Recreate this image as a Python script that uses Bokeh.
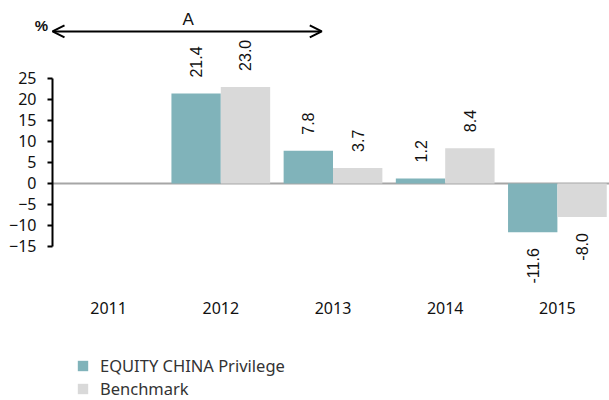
import math
from bokeh.plotting import figure
from bokeh.models import (ColumnDataSource, Range1d, FixedTicker, LinearAxis,
                          Arrow, OpenHead, Label, Legend, LegendItem)
from bokeh.core.properties import value
from bokeh.embed import file_html
from bokeh.resources import INLINE

years = ["2011", "2012", "2013", "2014", "2015"]
fund = [None, 21.4, 7.8, 1.2, -11.6]
bench = [None, 23.0, 3.7, 8.4, -8.0]
y_ticks = [-15, -10, -5, 0, 5, 10, 15, 20, 25]
series_names = ["EQUITY CHINA Privilege", "Benchmark"]
colors = ["#80B3BA", "#D9D9D9"]

TICK_FONT = "Noto Sans"
VAL_FONT = "Liberation Sans"
BAR_W = 0.44

centers = [i + 0.5 for i in range(len(years))]

p = figure(width=609, height=400, output_backend="svg", toolbar_location=None,
           x_range=Range1d(-52 / 112.2, 557 / 112.2),
           y_range=Range1d(-51.67, 43.57), x_axis_location=None, y_axis_location=None,
           min_border_left=0, min_border_right=0, min_border_top=0,
           min_border_bottom=0)
p.outline_line_color = None
p.xgrid.visible = False
p.ygrid.visible = False
p.background_fill_color = "white"
p.border_fill_color = "white"

def vals(arr):
    return [float("nan") if v is None else v for v in arr]

src = ColumnDataSource(dict(
    xf=[c - BAR_W / 2 for c in centers], xb=[c + BAR_W / 2 for c in centers],
    fund=vals(fund), bench=vals(bench)))

# zero line across the category area
p.line(x=[0, len(years)], y=[0, 0], line_color="#A6A6A6", line_width=2)

r1 = p.vbar(x="xf", top="fund", bottom=0, width=BAR_W, source=src,
            fill_color=colors[0], line_color=None)
r2 = p.vbar(x="xb", top="bench", bottom=0, width=BAR_W, source=src,
            fill_color=colors[1], line_color=None)

# value labels, one text renderer per series
for off, arr in ((-BAR_W / 2, fund), (BAR_W / 2, bench)):
    xs, ys, ts, als, ofs = [], [], [], [], []
    for c, v in zip(centers, arr):
        if v is None:
            continue
        xs.append(c + off)
        ys.append(v)
        ts.append(f"{v:.1f}")
        als.append("left" if v >= 0 else "right")
        ofs.append(-16 if v >= 0 else 16)
    s = ColumnDataSource(dict(x=xs, y=ys, t=ts, a=als, o=ofs))
    p.text(x="x", y="y", text="t", source=s,
           angle=math.pi / 2, text_align="a", text_baseline="middle",
           y_offset="o", text_font=value(VAL_FONT), text_font_size="16px",
           text_color="#111111")

# y axis at the left edge of the category area
ya = LinearAxis(fixed_location=0)
ya.bounds = (-15, 25)
ya.ticker = FixedTicker(ticks=y_ticks)
ya.axis_line_color = "black"
ya.axis_line_width = 2
ya.major_tick_line_color = "black"
ya.major_tick_line_width = 2
ya.major_tick_out = 5
ya.major_tick_in = 0
ya.minor_tick_line_color = None
ya.major_label_text_font = TICK_FONT
ya.major_label_text_font_size = "16px"
ya.major_label_text_color = "#111111"
ya.major_label_standoff = 11
p.add_layout(ya, "left")

# x axis (category labels), placed at a fixed level inside the frame
xa = LinearAxis(fixed_location=-26.9)
xa.ticker = FixedTicker(ticks=centers)
xa.major_label_overrides = {c: y for c, y in zip(centers, years)}
xa.axis_line_color = None
xa.major_tick_line_color = None
xa.minor_tick_line_color = None
xa.major_label_text_font = TICK_FONT
xa.major_label_text_font_size = "16px"
xa.major_label_text_color = "#111111"
xa.major_label_standoff = 0
p.add_layout(xa, "below")

# arrow period A
p.add_layout(Arrow(start=OpenHead(size=12, line_width=2, line_color="black"),
                   end=OpenHead(size=12, line_width=2, line_color="black"),
                   x_start=0.0, x_end=2.4, y_start=36.2, y_end=36.2,
                   line_width=2, line_color="black"))
p.add_layout(Label(x=1.21, y=36.9, text="A", text_align="center", text_baseline="bottom",
                   text_font="Liberation Sans", text_font_size="17px", text_color="#111111"))
p.add_layout(Label(x=-0.098, y=37.5, text="%", text_align="center", text_baseline="middle",
                   text_font="Liberation Sans", text_font_size="15px", text_font_style="bold",
                   text_color="#111111"))

legend = Legend(items=[LegendItem(label=series_names[0], renderers=[r1]),
                       LegendItem(label=series_names[1], renderers=[r2])],
                location=(76, 0), orientation="vertical",
                label_text_font=TICK_FONT, label_text_font_size="16.5px",
                label_text_color="#333333", glyph_width=13, glyph_height=13,
                label_height=20, label_standoff=11, spacing=0, padding=0, margin=0,
                border_line_color=None, background_fill_color=None,
                background_fill_alpha=0)
p.add_layout(legend)

open("out.html", "w").write(file_html(p, INLINE))
